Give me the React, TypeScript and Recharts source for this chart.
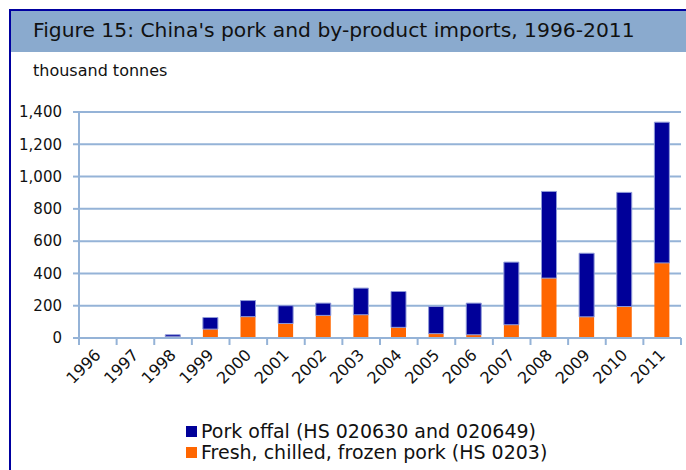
import { Bar, BarChart, CartesianGrid, XAxis, YAxis } from "recharts";

const years = [
  "1996", "1997", "1998", "1999", "2000", "2001", "2002", "2003",
  "2004", "2005", "2006", "2007", "2008", "2009", "2010", "2011",
];
const freshPork = [1, 1, 8, 55, 132, 90, 140, 144, 66, 27, 20, 82, 371, 131, 195, 465];
const porkOffal = [1, 2, 12, 72, 100, 110, 76, 165, 222, 168, 196, 388, 537, 394, 707, 872];
const yTicks = [0, 200, 400, 600, 800, 1000, 1200, 1400];

const seriesNames = {
  offal: "Pork offal (HS 020630 and 020649)",
  fresh: "Fresh, chilled, frozen pork (HS 0203)",
};

const NAVY = "#000099";
const ORANGE = "#ff6600";
const GRID = "#95b3d7";
const FONT = "'DejaVu Sans', Verdana, sans-serif";

const data = years.map((year, i) => ({
  year,
  fresh: freshPork[i],
  offal: porkOffal[i],
}));

type TickProps = {
  x?: number;
  y?: number;
  index?: number;
  payload?: { value?: string; offset?: number };
};

function YearTick({ x = 0, y = 0, index = 0, payload }: TickProps) {
  const half = payload?.offset ?? 0;
  const axisY = y - 8;
  const tx = x + 4;
  const ty = y + 10;
  return (
    <g>
      <line x1={x - half} x2={x - half} y1={axisY} y2={axisY + 7} stroke={GRID} strokeWidth={2} />
      {index === years.length - 1 && (
        <line x1={x + half} x2={x + half} y1={axisY} y2={axisY + 7} stroke={GRID} strokeWidth={2} />
      )}
      <text
        x={tx}
        y={ty}
        transform={`rotate(-45, ${tx}, ${ty})`}
        textAnchor="end"
        fontSize={16}
        fontFamily={FONT}
        fill="#111"
      >
        {payload?.value}
      </text>
    </g>
  );
}

function LegendRow({ color, label, top }: { color: string; label: string; top: number }) {
  return (
    <div
      style={{
        position: "absolute",
        left: 186,
        top,
        display: "flex",
        alignItems: "center",
        fontFamily: FONT,
        fontSize: 19,
        color: "#111",
        whiteSpace: "nowrap",
      }}
    >
      <span style={{ width: 11, height: 11, background: color, marginRight: 4, display: "inline-block" }} />
      {label}
    </div>
  );
}

export default function App() {
  return (
    <div style={{ position: "absolute", left: 0, top: 0, width: 686, height: 470, background: "#fff", overflow: "hidden" }}>
      <div style={{ position: "absolute", left: 9, top: 9, width: 2, height: 461, background: "#0000a0" }} />
      <div style={{ position: "absolute", left: 9, top: 9, width: 677, height: 2, background: "#0000a0" }} />
      <div
        style={{
          position: "absolute",
          left: 11,
          top: 11,
          width: 675,
          height: 41,
          background: "#8aaace",
        }}
      />
      <div
        style={{
          position: "absolute",
          left: 33,
          top: 18,
          fontFamily: FONT,
          fontSize: 20.3,
          color: "#111",
          whiteSpace: "nowrap",
        }}
      >
        Figure 15: China's pork and by-product imports, 1996-2011
      </div>
      <div
        style={{
          position: "absolute",
          left: 33,
          top: 61,
          fontFamily: FONT,
          fontSize: 16,
          color: "#111",
          whiteSpace: "nowrap",
        }}
      >
        thousand tonnes
      </div>
      <div style={{ position: "absolute", left: 0, top: 0 }}>
        <BarChart
          width={686}
          height={470}
          data={data}
          margin={{ top: 112, right: 5, bottom: 72, left: 0 }}
          barSize={15}
        >
          <CartesianGrid vertical={false} stroke={GRID} strokeWidth={2} />
          <XAxis
            dataKey="year"
            interval={0}
            height={60}
            axisLine={{ stroke: GRID, strokeWidth: 2 }}
            tickLine={false}
            tick={YearTick}
          />
          <YAxis
            domain={[0, 1400]}
            ticks={yTicks}
            width={79}
            axisLine={{ stroke: GRID, strokeWidth: 2 }}
            tickLine={{ stroke: GRID, strokeWidth: 2 }}
            tickSize={6}
            tickMargin={11}
            tickFormatter={(v: number) => v.toLocaleString("en-US")}
            tick={{ fill: "#111", fontSize: 15, fontFamily: FONT }}
          />
          <YAxis
            yAxisId="frame"
            orientation="right"
            width={0}
            tick={false}
            tickLine={false}
            axisLine={{ stroke: GRID, strokeWidth: 2 }}
          />
          <Bar dataKey="fresh" stackId="a" fill={ORANGE} name={seriesNames.fresh} isAnimationActive={false} />
          <Bar
            dataKey="offal"
            stackId="a"
            fill={NAVY}
            stroke="#8f9ad8"
            strokeWidth={1}
            name={seriesNames.offal}
            isAnimationActive={false}
          />
        </BarChart>
      </div>
      <LegendRow color={NAVY} label={seriesNames.offal} top={420} />
      <LegendRow color={ORANGE} label={seriesNames.fresh} top={441} />
    </div>
  );
}
